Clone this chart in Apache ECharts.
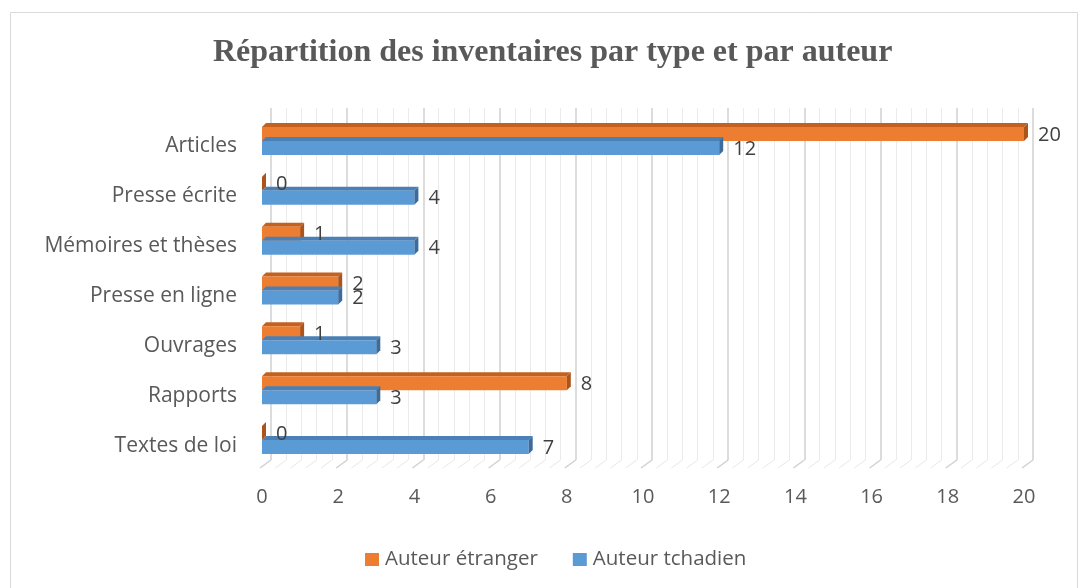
<!DOCTYPE html>
<html>
<head>
<meta charset="utf-8">
<script src="https://cdn.jsdelivr.net/npm/echarts@6/dist/echarts.min.js"></script>
<style>
html,body{margin:0;padding:0;background:#fff;}
#chart{width:1082px;height:588px;}
</style>
</head>
<body>
<div id="chart"></div>
<script>
// ---- data ----
var categories = ['Articles', 'Presse écrite', 'Mémoires et thèses', 'Presse en ligne', 'Ouvrages', 'Rapports', 'Textes de loi'];
var seriesNames = ['Auteur étranger', 'Auteur tchadien'];
var etranger = [20, 0, 1, 2, 1, 8, 0];
var tchadien = [12, 4, 4, 2, 3, 3, 7];
var xTicks = [0, 2, 4, 6, 8, 10, 12, 14, 16, 18, 20];
var titleText = 'Répartition des inventaires par type et par auteur';

// ---- style ----
var FONT = 'Open Sans';
var TXT = '#595959';
var colors = {
  face: ['#ED7D31', '#5B9BD5'],
  top: ['#C4611F', '#4A80B5'],
  side: ['#AE5419', '#3B6C9C']
};
var BAR_H = 14, DEPTH = 4;

var chart = echarts.init(document.getElementById('chart'), null, {renderer: 'canvas'});

function barRender(sIdx) {
  return function (params, api) {
    var cat = api.value(0);
    var val = api.value(1);
    var p0 = api.coord([0, cat]);
    var p1 = api.coord([val, cat]);
    var yc = p0[1];
    var y = sIdx === 0 ? yc - BAR_H : yc;
    var x0 = p0[0], x1 = p1[0];
    var d = DEPTH;
    var children = [];
    if (x1 > x0) {
      children.push({type: 'polygon', shape: {points: [[x0, y], [x1, y], [x1 + d, y - d], [x0 + d, y - d]]},
        style: {fill: colors.top[sIdx]}});
      children.push({type: 'rect', shape: {x: x0, y: y, width: x1 - x0, height: BAR_H},
        style: {fill: colors.face[sIdx]}});
    }
    children.push({type: 'polygon', shape: {points: [[x1, y], [x1 + d, y - d], [x1 + d, y + BAR_H - d], [x1, y + BAR_H]]},
      style: {fill: colors.side[sIdx]}});
    children.push({type: 'text', style: {text: String(val), x: x1 + d + 10, y: y + BAR_H / 2 + 1,
      verticalAlign: 'middle', align: 'left', fill: '#404040', font: '20px "' + FONT + '"'}, z2: 10});
    return {type: 'group', children: children};
  };
}

function floorRender(params, api) {
  var v = api.value(0);
  var cs = params.coordSys;
  var x = api.coord([v, 0])[0];
  var yb = cs.y + cs.height + 3;
  var major = Math.abs(v / 2 - Math.round(v / 2)) < 1e-6;
  return {type: 'line', shape: {x1: x - 2, y1: yb, x2: x + 9, y2: yb - 8},
    style: {stroke: major ? '#D0D0D0' : '#E8E8E8', lineWidth: major ? 1.5 : 1}};
}

var floorData = [];
for (var t = 0; t <= 20 + 1e-9; t += 0.4) floorData.push([Math.round(t * 10) / 10]);

function catData(arr) {
  return arr.map(function (v, i) { return [i, v]; });
}

var option = {
  backgroundColor: '#fff',
  animation: false,
  title: {
    text: titleText, left: 208, top: 32,
    textStyle: {fontFamily: 'Liberation Serif', fontWeight: 'bold', fontSize: 32, color: TXT}
  },
  legend: {
    data: seriesNames, left: 360, top: 544, icon: 'rect', itemWidth: 14, itemHeight: 13, itemGap: 35,
    textStyle: {fontFamily: FONT, fontSize: 20.5, color: TXT, padding: [0, 0, 0, 1]}
  },
  grid: [
    {left: 262, right: 58, top: 116, bottom: 123},   // front (bars)
    {left: 271, right: 49, top: 108, bottom: 128}    // back wall
  ],
  xAxis: [
    {gridIndex: 0, type: 'value', min: 0, max: 20, interval: 2,
      axisLine: {show: false}, axisTick: {show: false}, splitLine: {show: false},
      axisLabel: {margin: 22, fontFamily: FONT, fontSize: 20, color: TXT}},
    {gridIndex: 1, type: 'value', min: 0, max: 20, interval: 2,
      axisLine: {show: false}, axisTick: {show: false}, axisLabel: {show: false},
      splitLine: {show: true, lineStyle: {color: '#D0D0D0', width: 1.5}},
      minorTick: {show: false, splitNumber: 5},
      minorSplitLine: {show: true, lineStyle: {color: '#EBEBEB', width: 1}}}
  ],
  yAxis: [
    {gridIndex: 0, type: 'category', data: categories, inverse: true,
      axisLine: {show: false}, axisTick: {show: false}, splitLine: {show: false},
      axisLabel: {margin: 25, color: TXT,
        formatter: function (v) { return '{a|' + v + '}'; },
        rich: {a: {fontFamily: FONT, fontSize: 21, color: TXT, padding: [11, 0, 0, 0]}}}},
    {gridIndex: 1, type: 'value', min: 0, max: 1, show: false}
  ],
  series: [
    {type: 'custom', name: 'floor', xAxisIndex: 0, yAxisIndex: 0, data: floorData, renderItem: floorRender, silent: true, z: 1},
    {type: 'custom', name: seriesNames[0], xAxisIndex: 0, yAxisIndex: 0, data: catData(etranger),
      renderItem: barRender(0), itemStyle: {color: colors.face[0]}, encode: {x: 1, y: 0}, z: 5},
    {type: 'custom', name: seriesNames[1], xAxisIndex: 0, yAxisIndex: 0, data: catData(tchadien),
      renderItem: barRender(1), itemStyle: {color: colors.face[1]}, encode: {x: 1, y: 0}, z: 5}
  ],
  graphic: [
    {type: 'rect', shape: {x: 10.5, y: 12.5, width: 1067, height: 590}, style: {fill: 'none', stroke: '#D9D9D9', lineWidth: 1}, z: -1, silent: true}
  ]
};
chart.setOption(option);
</script>
</body>
</html>
